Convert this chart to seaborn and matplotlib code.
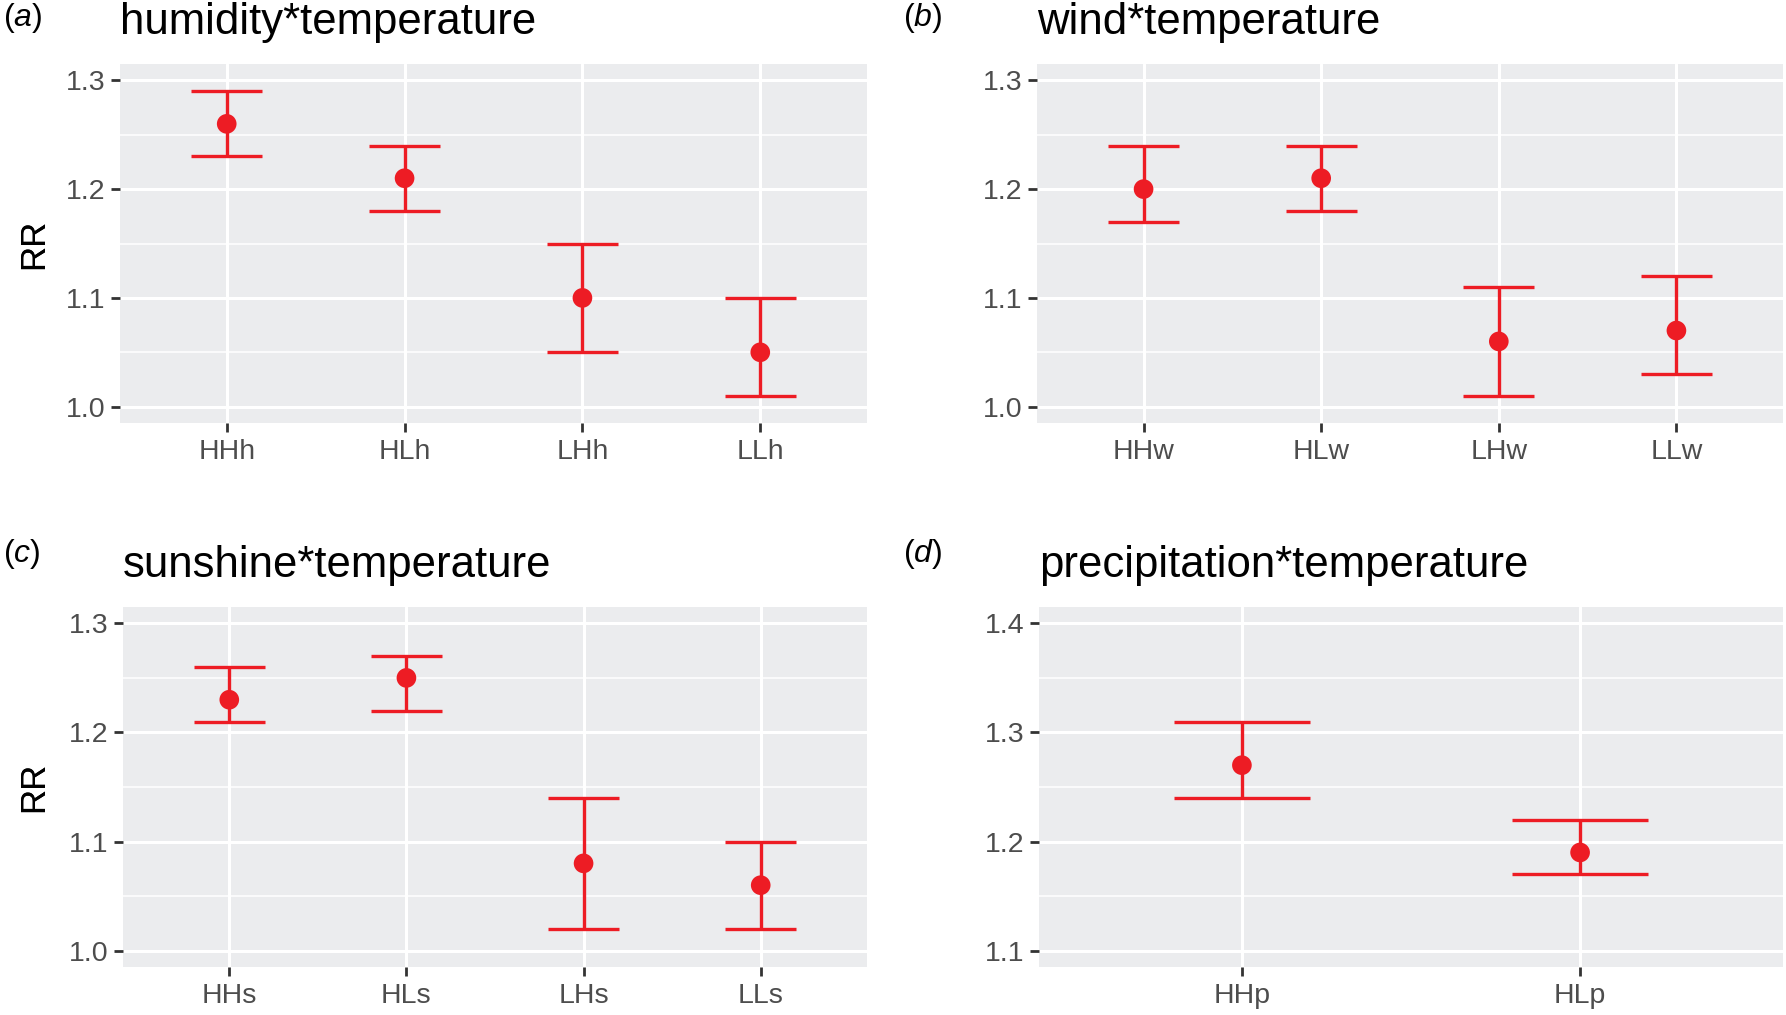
import numpy as np
import pandas as pd
import seaborn as sns
import matplotlib
matplotlib.use("Agg")
import matplotlib.pyplot as plt
from matplotlib.ticker import MultipleLocator, FormatStrFormatter

# data (RR with 95% CI)
cats_a = ["HHh", "HLh", "LHh", "LLh"]
rr_a = [1.26, 1.21, 1.10, 1.05]
lo_a = [1.23, 1.18, 1.05, 1.01]
hi_a = [1.29, 1.24, 1.15, 1.10]

cats_b = ["HHw", "HLw", "LHw", "LLw"]
rr_b = [1.20, 1.21, 1.06, 1.07]
lo_b = [1.17, 1.18, 1.01, 1.03]
hi_b = [1.24, 1.24, 1.11, 1.12]

cats_c = ["HHs", "HLs", "LHs", "LLs"]
rr_c = [1.23, 1.25, 1.08, 1.06]
lo_c = [1.21, 1.22, 1.02, 1.02]
hi_c = [1.26, 1.27, 1.14, 1.10]

cats_d = ["HHp", "HLp"]
rr_d = [1.27, 1.19]
lo_d = [1.24, 1.17]
hi_d = [1.31, 1.22]

titles = ["humidity*temperature", "wind*temperature",
          "sunshine*temperature", "precipitation*temperature"]
tags = ["a", "b", "c", "d"]
ylims = [(1.0, 1.3), (1.0, 1.3), (1.0, 1.3), (1.1, 1.4)]

RED = "#ED1C24"
W, H = 1786, 1015

sns.set_style("darkgrid", {"axes.facecolor": "#EBECEE", "grid.color": "white"})
plt.rcParams["font.family"] = ["Liberation Sans", "DejaVu Sans"]
plt.rcParams["mathtext.fontset"] = "custom"
plt.rcParams["mathtext.rm"] = "Liberation Sans"
plt.rcParams["mathtext.it"] = "Liberation Sans:italic"

fig = plt.figure(figsize=(W / 100, H / 100), dpi=100)

# panel boxes in pixels: left, top, right, bottom
boxes = [(120, 64, 867, 423), (1037, 64, 1783, 423),
         (123, 607, 867, 967), (1039, 607, 1783, 967)]
tag_pos = [(3, 18), (903, 18), (3, 554), (903, 554)]

panels = [(cats_a, rr_a, lo_a, hi_a), (cats_b, rr_b, lo_b, hi_b),
          (cats_c, rr_c, lo_c, hi_c), (cats_d, rr_d, lo_d, hi_d)]

for i, (cats, rr, lo, hi) in enumerate(panels):
    l, t, r, b = boxes[i]
    ax = fig.add_axes([l / W, 1 - b / H, (r - l) / W, (b - t) / H])
    df = pd.DataFrame({"group": cats, "rr": rr, "lo": lo, "hi": hi})
    xs = np.arange(len(cats))

    ax.vlines(xs, df["lo"], df["hi"], color=RED, lw=2.4, zorder=3)
    ax.hlines(df["lo"], xs - 0.2, xs + 0.2, color=RED, lw=2.4, zorder=3)
    ax.hlines(df["hi"], xs - 0.2, xs + 0.2, color=RED, lw=2.4, zorder=3)
    sns.scatterplot(data=df, x="group", y="rr", ax=ax, color=RED, s=200,
                    edgecolor="none", zorder=4, legend=False)

    y0, y1 = ylims[i]
    pad = (y1 - y0) * 0.05
    ax.set_ylim(y0 - pad, y1 + pad)
    ax.set_xlim(-0.6, len(cats) - 0.4)
    ax.set_xticks(xs)
    ax.set_xticklabels(cats)
    ax.yaxis.set_major_locator(MultipleLocator(0.1))
    ax.yaxis.set_minor_locator(MultipleLocator(0.05))
    ax.yaxis.set_major_formatter(FormatStrFormatter("%.1f"))

    ax.grid(which="major", color="white", lw=2.2)
    ax.grid(which="minor", axis="y", color="white", lw=1.1)
    ax.set_axisbelow(True)
    for s in ax.spines.values():
        s.set_visible(False)
    ax.tick_params(axis="both", which="major", bottom=True, left=True,
                   length=6.5, width=2, color="#333333", labelsize=20.5,
                   labelcolor="#4D4D4D", pad=4)
    ax.tick_params(axis="x", pad=5)
    ax.tick_params(axis="y", which="minor", length=0)

    ax.set_xlabel("")
    ax.set_ylabel("RR", fontsize=25, color="black")
    ax.yaxis.set_label_coords((50 - l) / (r - l), 0.5)

    ax.annotate(titles[i], xy=(0, 1), xycoords="axes fraction",
                xytext=(0, 30), textcoords="offset pixels",
                ha="left", va="baseline", fontsize=31.5, color="black")

    tx, ty = tag_pos[i]
    fig.text(tx / W, 1 - ty / H, r"$\mathrm{(}\mathit{%s}\mathrm{)}$" % tags[i],
             ha="left", va="center", fontsize=23, color="black")

fig.savefig("out.png", dpi=100)
